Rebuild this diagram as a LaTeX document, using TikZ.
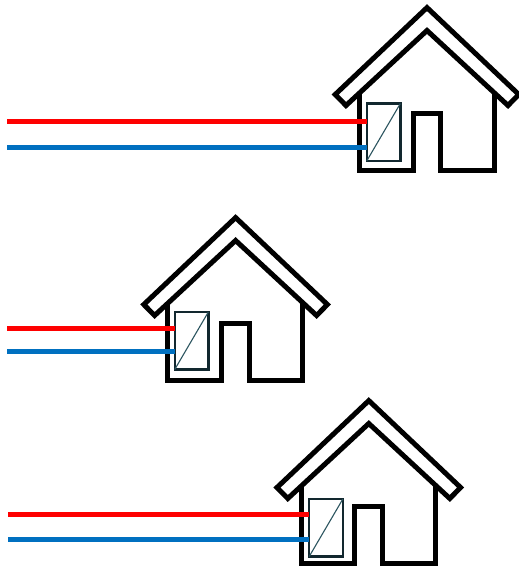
\documentclass[tikz,border=0pt]{standalone}
\tikzset{
  x=1pt,y=-1pt,
  wall/.style={draw=black,line width=5pt,miter limit=10,line join=miter},
  hotpipe/.style={draw=pipered,line width=4.6pt},
  coldpipe/.style={draw=pipeblue,line width=4.6pt},
  unitbox/.style={draw=unitdark,line width=2.4pt,fill=white,minimum width=33.6pt,minimum height=57.4pt,inner sep=0pt,outer sep=0pt},
  diag/.style={draw=unitline,line width=1.1pt}
}
\definecolor{pipered}{HTML}{FE0000}
\definecolor{pipeblue}{HTML}{0070C0}
\definecolor{unitdark}{HTML}{12282F}
\definecolor{unitline}{HTML}{2C5560}
% #1 house shift x, #2 house shift y, #3 name, #4 box cx, #5 box cy, #6 red y, #7 blue y, #8 pipe start x
\newcommand{\myhouse}[8]{%
  \begin{scope}[shift={(#1,#2)}]
    \draw[wall] (359.3,90) -- (359.3,170.8) -- (413,170.8) -- (413,113.8) -- (440.7,113.8) -- (440.7,170.8) -- (494,170.8) -- (494,90);
    \draw[wall,fill=white] (427,7.6) -- (518.8,94.5) -- (508,105.5) -- (427,30.5) -- (346,105.5) -- (335.2,94.5) -- cycle;
  \end{scope}
  \node[unitbox] (#3) at (#4,#5) {};
  \coordinate (#3r) at (#8,#6);
  \coordinate (#3b) at (#8,#7);
  \draw[hotpipe] (#3r) -- (#3r -| #3.west);
  \draw[coldpipe] (#3b) -- (#3b -| #3.west);
  \draw[diag] (#3.south west) -- (#3.north east);
}
\begin{document}
\begin{tikzpicture}
  \useasboundingbox (0,0) rectangle (519,566);
  \myhouse{0}{0}{ua}{383.5}{132.3}{121.4}{147.4}{7}
  \myhouse{-191.4}{210}{ub}{191.5}{340.8}{328.2}{351.2}{7}
  \myhouse{-58.2}{393}{uc}{326}{527.8}{514.4}{539.2}{8}
\end{tikzpicture}
\end{document}
